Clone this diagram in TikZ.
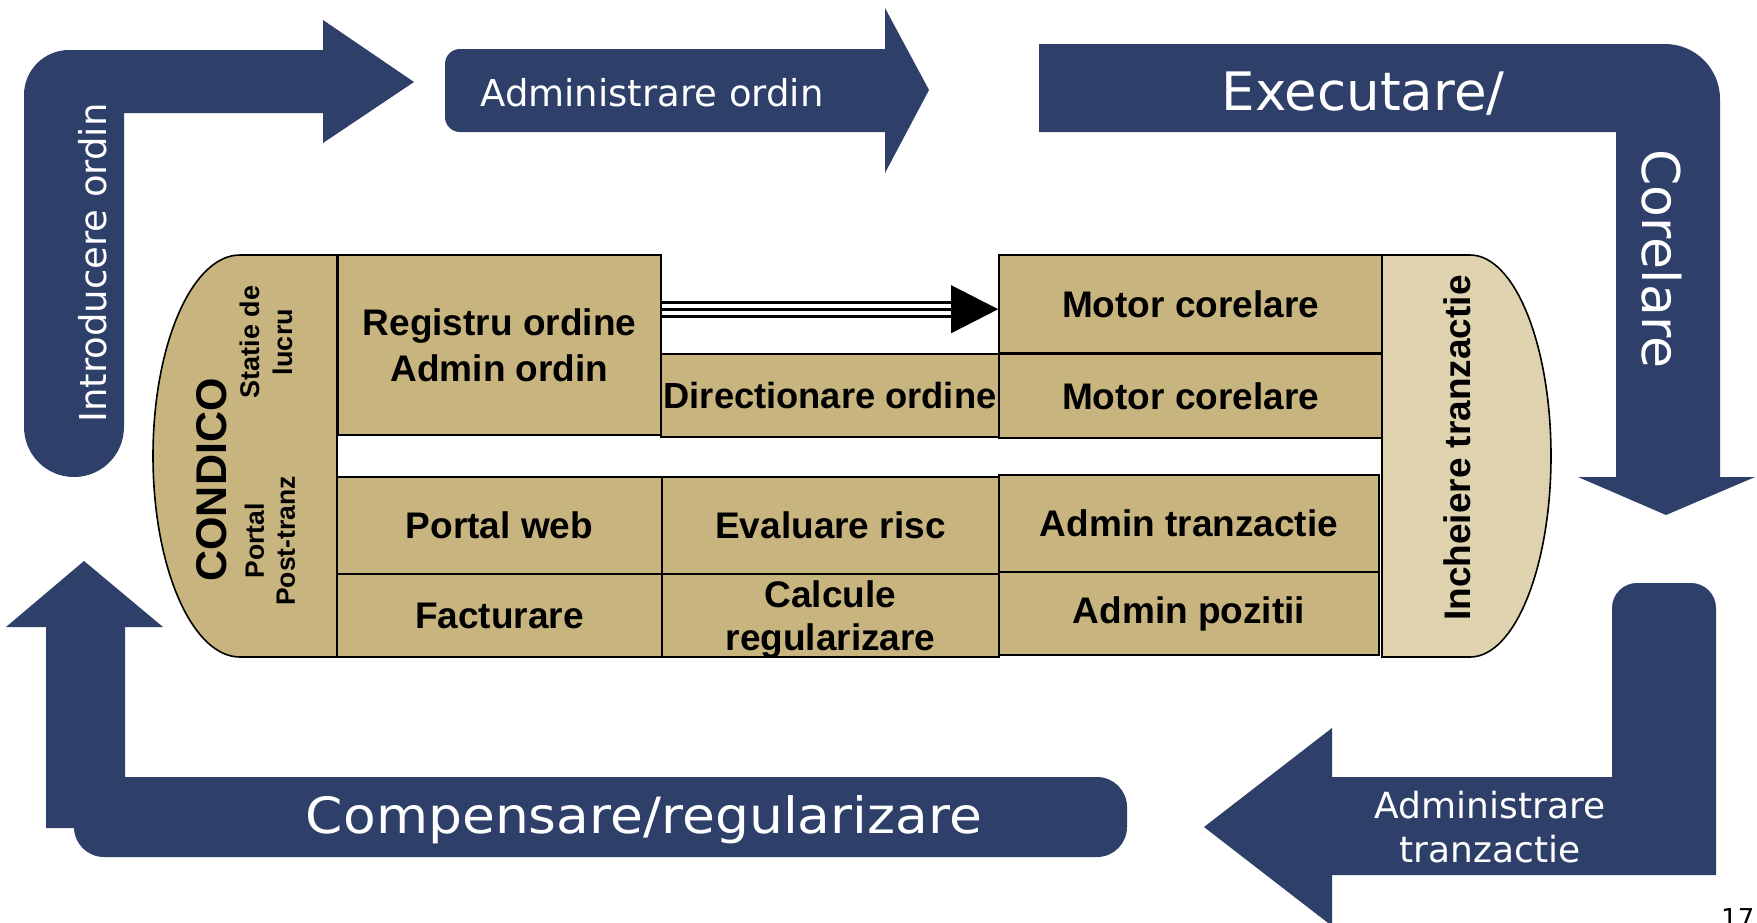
\documentclass[tikz,border=0pt]{standalone}
\usepackage{fontspec}
\setmainfont{Liberation Sans}
\newfontfamily\wf{DejaVu Sans}
\usetikzlibrary{calc}
\definecolor{navy}{RGB}{46,63,106}
\definecolor{tanfill}{RGB}{200,180,126}
\definecolor{lighttan}{RGB}{222,210,175}
\begin{document}
\begin{tikzpicture}[x=1pt,y=1pt,
  flow/.style={fill=navy},
  wlabel/.style={text=white, inner sep=0pt, anchor=base},
  box/.style={draw=black, line width=1.6pt, fill=tanfill, inner sep=0pt, align=center,
    font=\bfseries\fontsize{37}{46}\selectfont},
  edge/.style={draw=black, line width=1.6pt},
  blabel/.style={inner sep=0pt, align=center, text=black},
]
\useasboundingbox (0,0) rectangle (1757,-922);
\fill[white] (0,0) rectangle (1757,-922);

% ---- Introducere ordin
\fill[flow] (323,-113) -- (124,-113) -- (124,-427)
  arc[start angle=0,end angle=-180,radius=50] -- (24,-95)
  arc[start angle=180,end angle=90,radius=45] -- (323,-50) -- (323,-20)
  -- (414,-82) -- (323,-143) -- cycle;
\node[wlabel, rotate=90, font=\wf\fontsize{37}{44}\selectfont] (tIntro) at (106,-263) {Introducere ordin};

% ---- Administrare ordin
\fill[flow] (460,-49) -- (885,-49) -- (885,-8) -- (929,-90) -- (885,-173) -- (885,-132)
  -- (460,-132) arc[start angle=270,end angle=180,radius=15] -- (445,-64)
  arc[start angle=180,end angle=90,radius=15] -- cycle;
\node[wlabel, font=\wf\fontsize{37}{44}\selectfont] (tAdmOrd) at (652,-106) {Administrare ordin};

% ---- Executare / Corelare
\fill[flow] (1039,-44) -- (1665,-44) arc[start angle=90,end angle=0,radius=55]
  -- (1720,-477) -- (1755,-477) -- (1666,-515) -- (1578,-477) -- (1616,-477)
  -- (1616,-132) -- (1039,-132) -- cycle;
\node[wlabel, font=\wf\fontsize{53}{60}\selectfont] (tExec) at (1363,-110) {Executare/};
\node[wlabel, rotate=-90, font=\wf\fontsize{52}{60}\selectfont] (tCor) at (1642,-259) {Corelare};

% ---- Administrare tranzactie
\fill[flow] (1637,-583) -- (1691,-583) arc[start angle=90,end angle=0,radius=25]
  -- (1716,-875) -- (1332,-875) -- (1332,-926) -- (1204,-827) -- (1332,-728)
  -- (1332,-777) -- (1612,-777) -- (1612,-608)
  arc[start angle=180,end angle=90,radius=25] -- cycle;
\node[text=white, inner sep=0pt, align=center, font=\wf\fontsize{36}{44}\selectfont] (tAdmTr) at (1490,-827) {Administrare\\tranzactie};

% ---- Compensare / regularizare
\fill[flow] (46,-828) -- (46,-627) -- (6,-627) -- (84,-561) -- (163,-627) -- (125,-627) -- (125,-828) -- cycle;
\fill[flow, rounded corners=30pt] (74,-777) rectangle (1127,-857);
\node[wlabel, xscale=1.07, font=\wf\fontsize{50}{58}\selectfont] (tComp) at (644,-833) {Compensare/regularizare};

% ---- CONDICO side
\draw[edge, fill=tanfill] (337,-255) -- (240,-255)
  arc[start angle=90,end angle=270,x radius=87,y radius=201] -- (337,-657) -- cycle;
\node[blabel, rotate=90, font=\bfseries\fontsize{43}{50}\selectfont] (tCond) at (212,-480) {CONDICO};
\node[blabel, rotate=90, font=\bfseries\fontsize{27}{33}\selectfont] (tStatie) at (266,-342) {Statie de\\lucru};
\node[blabel, rotate=90, font=\bfseries\fontsize{26.5}{31}\selectfont] (tPortal) at (270,-541) {Portal\\Post-tranz};

% ---- Incheiere tranzactie
\draw[edge, fill=lighttan] (1382,-255) -- (1470,-255)
  arc[start angle=90,end angle=-90,x radius=81,y radius=201] -- (1382,-657) -- cycle;
\node[blabel, rotate=90, font=\bfseries\fontsize{37}{44}\selectfont] (tInch) at (1457,-448) {Incheiere tranzactie};

% ---- grid boxes
\node[box, minimum width=323pt, minimum height=180pt] (R1) at (499.5,-345) {Registru ordine\\Admin ordin};
\node[box, minimum width=338pt, minimum height=83pt, font=\bfseries\fontsize{36.3}{40}\selectfont] (D) at (830,-395.5) {Directionare ordine};
\node[box, minimum width=383pt, minimum height=98pt] (M1) at (1190.5,-304) {Motor corelare};
\node[box, minimum width=383pt, minimum height=84pt] (M2) at (1190.5,-396) {Motor corelare};
\node[box, minimum width=325pt, minimum height=97pt] (P) at (499.5,-525.5) {Portal web};
\node[box, minimum width=337pt, minimum height=97pt] (E) at (830.5,-525.5) {Evaluare risc};
\node[box, minimum width=380pt, minimum height=97pt] (AT) at (1189,-523.5) {Admin tranzactie};
\node[box, minimum width=325pt, minimum height=83pt] (F) at (499.5,-615.5) {Facturare};
\node[box, minimum width=337pt, minimum height=83pt, text depth=0pt, font=\bfseries\fontsize{37}{43}\selectfont] (C) at (830.5,-615.5) {Calcule\\regularizare};
\node[box, minimum width=380pt, minimum height=83pt] (AP) at (1189,-613.5) {Admin pozitii};

% ---- triple-line arrow from Registru to Motor corelare
\coordinate (s) at ($(R1.north east)+(0,-55)$);
\coordinate (t) at (M1.west |- s);
\coordinate (b) at ($(t)+(-47,0)$);
\foreach \dy in {-7,0,7} \draw[line width=3pt] ($(s)+(0,\dy)$) -- ($(b)+(0,\dy)$);
\fill (t) -- ($(b)+(0,24)$) -- ($(b)+(0,-24)$) -- cycle;

% ---- page number
\node[anchor=base west, inner sep=0pt, font=\wf\fontsize{26}{30}\selectfont] (pg) at (1721,-927) {17};
\end{tikzpicture}
\end{document}
